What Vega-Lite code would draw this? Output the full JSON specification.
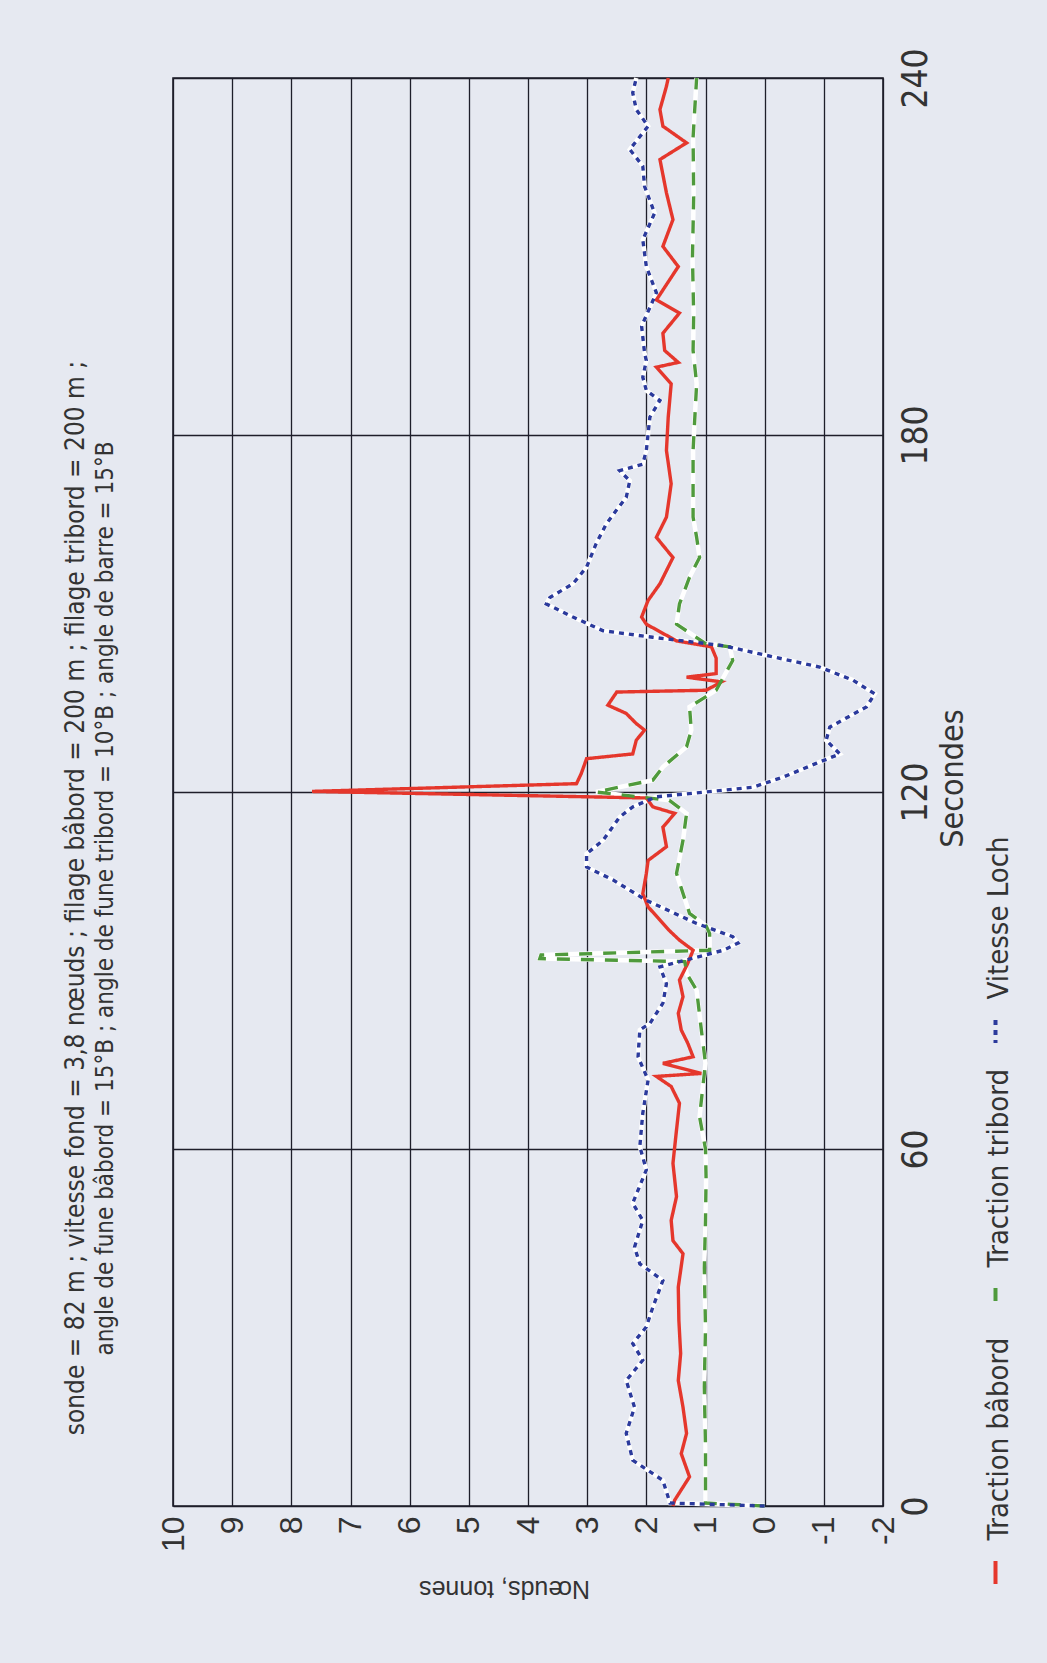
{
 "$schema": "https://vega.github.io/schema/vega-lite/v6.json",
 "width": 710,
 "height": 1428,
 "autosize": "none",
 "padding": {"left": 173, "top": 78, "right": 164, "bottom": 157},
 "background": "#e6e9f1",
 "config": {"view": {"stroke": "#1e1e2a", "strokeWidth": 1.6}, "font": "'DejaVu Sans Condensed', 'Liberation Sans', sans-serif"},
 "title": {
  "text": "sonde = 82 m ; vitesse fond = 3,8 nœuds ; filage bâbord = 200 m ; filage tribord = 200 m ;",
  "orient": "left", "anchor": "middle", "frame": "group", "font": "'DejaVu Sans Condensed', 'Liberation Sans', sans-serif", "fontSize": 26, "fontWeight": "normal",
  "color": "#333333", "offset": 4, "dx": -106
 },
 "data": {"values": [
  {"s":"Traction bâbord","t":0,"v":1.55},{"s":"Traction bâbord","t":1,"v":1.52},{"s":"Traction bâbord","t":4.9,"v":1.27},{"s":"Traction bâbord","t":8.8,"v":1.41},{"s":"Traction bâbord","t":12.2,"v":1.32},{"s":"Traction bâbord","t":16.6,"v":1.38},{"s":"Traction bâbord","t":21.1,"v":1.46},{"s":"Traction bâbord","t":25.6,"v":1.42},{"s":"Traction bâbord","t":31.2,"v":1.45},{"s":"Traction bâbord","t":36.8,"v":1.46},{"s":"Traction bâbord","t":42.4,"v":1.38},{"s":"Traction bâbord","t":44.6,"v":1.55},{"s":"Traction bâbord","t":48,"v":1.58},{"s":"Traction bâbord","t":52,"v":1.49},{"s":"Traction bâbord","t":57.6,"v":1.55},{"s":"Traction bâbord","t":63.2,"v":1.49},{"s":"Traction bâbord","t":67.7,"v":1.44},{"s":"Traction bâbord","t":70.5,"v":1.58},{"s":"Traction bâbord","t":72.2,"v":1.83},{"s":"Traction bâbord","t":72.7,"v":1.07},{"s":"Traction bâbord","t":74.4,"v":1.72},{"s":"Traction bâbord","t":75.5,"v":1.21},{"s":"Traction bâbord","t":77.8,"v":1.3},{"s":"Traction bâbord","t":80,"v":1.41},{"s":"Traction bâbord","t":82.8,"v":1.46},{"s":"Traction bâbord","t":85.6,"v":1.38},{"s":"Traction bâbord","t":88.4,"v":1.44},{"s":"Traction bâbord","t":91.2,"v":1.3},{"s":"Traction bâbord","t":93.4,"v":1.21},{"s":"Traction bâbord","t":95.1,"v":1.44},{"s":"Traction bâbord","t":96.8,"v":1.62},{"s":"Traction bâbord","t":100.7,"v":1.97},{"s":"Traction bâbord","t":102.9,"v":2.06},{"s":"Traction bâbord","t":106.3,"v":2.0},{"s":"Traction bâbord","t":108.5,"v":1.97},{"s":"Traction bâbord","t":110.8,"v":1.66},{"s":"Traction bâbord","t":114.1,"v":1.72},{"s":"Traction bâbord","t":116.4,"v":1.52},{"s":"Traction bâbord","t":117.5,"v":1.89},{"s":"Traction bâbord","t":119,"v":2.0},{"s":"Traction bâbord","t":120.1,"v":7.65},{"s":"Traction bâbord","t":121.4,"v":3.18},{"s":"Traction bâbord","t":123.1,"v":3.1},{"s":"Traction bâbord","t":125.6,"v":3.01},{"s":"Traction bâbord","t":126.4,"v":2.23},{"s":"Traction bâbord","t":128.7,"v":2.17},{"s":"Traction bâbord","t":130.4,"v":2.03},{"s":"Traction bâbord","t":131.5,"v":2.17},{"s":"Traction bâbord","t":133.2,"v":2.34},{"s":"Traction bâbord","t":134.6,"v":2.65},{"s":"Traction bâbord","t":136.8,"v":2.5},{"s":"Traction bâbord","t":137.1,"v":0.99},{"s":"Traction bâbord","t":138.5,"v":0.73},{"s":"Traction bâbord","t":139.3,"v":1.32},{"s":"Traction bâbord","t":139.9,"v":0.82},{"s":"Traction bâbord","t":142.5,"v":0.82},{"s":"Traction bâbord","t":144.4,"v":0.9},{"s":"Traction bâbord","t":145.4,"v":1.49},{"s":"Traction bâbord","t":148.2,"v":2.0},{"s":"Traction bâbord","t":149.4,"v":2.08},{"s":"Traction bâbord","t":152.2,"v":1.97},{"s":"Traction bâbord","t":155,"v":1.77},{"s":"Traction bâbord","t":157.2,"v":1.66},{"s":"Traction bâbord","t":159.4,"v":1.55},{"s":"Traction bâbord","t":162.8,"v":1.83},{"s":"Traction bâbord","t":166.2,"v":1.66},{"s":"Traction bâbord","t":171.8,"v":1.58},{"s":"Traction bâbord","t":177.4,"v":1.66},{"s":"Traction bâbord","t":183,"v":1.63},{"s":"Traction bâbord","t":188.6,"v":1.58},{"s":"Traction bâbord","t":191.4,"v":1.83},{"s":"Traction bâbord","t":192.2,"v":1.46},{"s":"Traction bâbord","t":194.2,"v":1.69},{"s":"Traction bâbord","t":197.1,"v":1.72},{"s":"Traction bâbord","t":200.5,"v":1.44},{"s":"Traction bâbord","t":202.7,"v":1.83},{"s":"Traction bâbord","t":208.3,"v":1.46},{"s":"Traction bâbord","t":211.7,"v":1.72},{"s":"Traction bâbord","t":216.2,"v":1.55},{"s":"Traction bâbord","t":220.7,"v":1.66},{"s":"Traction bâbord","t":226.3,"v":1.77},{"s":"Traction bâbord","t":229.1,"v":1.32},{"s":"Traction bâbord","t":231.9,"v":1.72},{"s":"Traction bâbord","t":234.7,"v":1.77},{"s":"Traction bâbord","t":238.6,"v":1.66},{"s":"Traction bâbord","t":240,"v":1.63},
  {"s":"Traction tribord","t":0,"v":0},{"s":"Traction tribord","t":0.5,"v":1.0},{"s":"Traction tribord","t":10,"v":1.0},{"s":"Traction tribord","t":20,"v":1.02},{"s":"Traction tribord","t":30,"v":1.0},{"s":"Traction tribord","t":40,"v":1.02},{"s":"Traction tribord","t":48,"v":1.0},{"s":"Traction tribord","t":55,"v":0.99},{"s":"Traction tribord","t":60,"v":1.0},{"s":"Traction tribord","t":65.4,"v":1.1},{"s":"Traction tribord","t":70,"v":1.05},{"s":"Traction tribord","t":74.4,"v":1.0},{"s":"Traction tribord","t":80,"v":1.07},{"s":"Traction tribord","t":86.7,"v":1.15},{"s":"Traction tribord","t":89.5,"v":1.32},{"s":"Traction tribord","t":91.5,"v":1.35},{"s":"Traction tribord","t":92,"v":3.8},{"s":"Traction tribord","t":92.6,"v":3.78},{"s":"Traction tribord","t":93.4,"v":0.93},{"s":"Traction tribord","t":96.2,"v":0.93},{"s":"Traction tribord","t":97.5,"v":0.99},{"s":"Traction tribord","t":99.6,"v":1.27},{"s":"Traction tribord","t":106.3,"v":1.49},{"s":"Traction tribord","t":111.9,"v":1.38},{"s":"Traction tribord","t":116.4,"v":1.32},{"s":"Traction tribord","t":118.6,"v":1.61},{"s":"Traction tribord","t":120,"v":2.85},{"s":"Traction tribord","t":122,"v":1.89},{"s":"Traction tribord","t":124.2,"v":1.72},{"s":"Traction tribord","t":127.6,"v":1.32},{"s":"Traction tribord","t":130.4,"v":1.24},{"s":"Traction tribord","t":134.3,"v":1.27},{"s":"Traction tribord","t":137.1,"v":0.82},{"s":"Traction tribord","t":142.1,"v":0.54},{"s":"Traction tribord","t":144.4,"v":0.59},{"s":"Traction tribord","t":144.9,"v":0.99},{"s":"Traction tribord","t":148.2,"v":1.49},{"s":"Traction tribord","t":151.6,"v":1.44},{"s":"Traction tribord","t":156.1,"v":1.27},{"s":"Traction tribord","t":159.4,"v":1.1},{"s":"Traction tribord","t":162.8,"v":1.15},{"s":"Traction tribord","t":166.2,"v":1.21},{"s":"Traction tribord","t":171.8,"v":1.21},{"s":"Traction tribord","t":177.4,"v":1.21},{"s":"Traction tribord","t":183,"v":1.18},{"s":"Traction tribord","t":188.6,"v":1.15},{"s":"Traction tribord","t":194.2,"v":1.21},{"s":"Traction tribord","t":200,"v":1.2},{"s":"Traction tribord","t":210,"v":1.22},{"s":"Traction tribord","t":220,"v":1.2},{"s":"Traction tribord","t":230,"v":1.21},{"s":"Traction tribord","t":240,"v":1.15},
  {"s":"Vitesse Loch","t":0,"v":0},{"s":"Vitesse Loch","t":0.5,"v":1.6},{"s":"Vitesse Loch","t":4.3,"v":1.72},{"s":"Vitesse Loch","t":7.7,"v":2.23},{"s":"Vitesse Loch","t":12.2,"v":2.34},{"s":"Vitesse Loch","t":16.6,"v":2.2},{"s":"Vitesse Loch","t":21.1,"v":2.34},{"s":"Vitesse Loch","t":24.5,"v":2.06},{"s":"Vitesse Loch","t":27.3,"v":2.23},{"s":"Vitesse Loch","t":30.1,"v":2.0},{"s":"Vitesse Loch","t":33.4,"v":1.89},{"s":"Vitesse Loch","t":37.9,"v":1.72},{"s":"Vitesse Loch","t":40.7,"v":2.11},{"s":"Vitesse Loch","t":43.5,"v":2.2},{"s":"Vitesse Loch","t":48,"v":2.06},{"s":"Vitesse Loch","t":50.9,"v":2.23},{"s":"Vitesse Loch","t":56.5,"v":2.0},{"s":"Vitesse Loch","t":60.4,"v":2.11},{"s":"Vitesse Loch","t":66,"v":2.06},{"s":"Vitesse Loch","t":71.6,"v":1.97},{"s":"Vitesse Loch","t":75.5,"v":2.14},{"s":"Vitesse Loch","t":80,"v":2.11},{"s":"Vitesse Loch","t":81.1,"v":1.94},{"s":"Vitesse Loch","t":84.5,"v":1.72},{"s":"Vitesse Loch","t":87.8,"v":1.66},{"s":"Vitesse Loch","t":90.6,"v":1.77},{"s":"Vitesse Loch","t":91.8,"v":1.32},{"s":"Vitesse Loch","t":93.4,"v":0.7},{"s":"Vitesse Loch","t":94.6,"v":0.45},{"s":"Vitesse Loch","t":95.7,"v":0.54},{"s":"Vitesse Loch","t":97.9,"v":1.15},{"s":"Vitesse Loch","t":101.8,"v":2.0},{"s":"Vitesse Loch","t":105.2,"v":2.56},{"s":"Vitesse Loch","t":107.4,"v":3.01},{"s":"Vitesse Loch","t":109.6,"v":3.01},{"s":"Vitesse Loch","t":111.9,"v":2.73},{"s":"Vitesse Loch","t":115.8,"v":2.45},{"s":"Vitesse Loch","t":117.5,"v":2.23},{"s":"Vitesse Loch","t":119.2,"v":1.83},{"s":"Vitesse Loch","t":120,"v":0.99},{"s":"Vitesse Loch","t":120.8,"v":0.2},{"s":"Vitesse Loch","t":122.5,"v":-0.31},{"s":"Vitesse Loch","t":124.8,"v":-0.87},{"s":"Vitesse Loch","t":126.4,"v":-1.27},{"s":"Vitesse Loch","t":128.7,"v":-1.04},{"s":"Vitesse Loch","t":130.9,"v":-1.1},{"s":"Vitesse Loch","t":134.3,"v":-1.72},{"s":"Vitesse Loch","t":136.5,"v":-1.86},{"s":"Vitesse Loch","t":138.8,"v":-1.49},{"s":"Vitesse Loch","t":141,"v":-0.93},{"s":"Vitesse Loch","t":143.2,"v":0.08},{"s":"Vitesse Loch","t":144.6,"v":0.7},{"s":"Vitesse Loch","t":146,"v":1.89},{"s":"Vitesse Loch","t":147.1,"v":2.73},{"s":"Vitesse Loch","t":149.4,"v":3.24},{"s":"Vitesse Loch","t":151.6,"v":3.69},{"s":"Vitesse Loch","t":152.7,"v":3.63},{"s":"Vitesse Loch","t":155,"v":3.24},{"s":"Vitesse Loch","t":157.8,"v":3.01},{"s":"Vitesse Loch","t":161.7,"v":2.85},{"s":"Vitesse Loch","t":165,"v":2.68},{"s":"Vitesse Loch","t":167.3,"v":2.51},{"s":"Vitesse Loch","t":169.5,"v":2.34},{"s":"Vitesse Loch","t":172.3,"v":2.28},{"s":"Vitesse Loch","t":174,"v":2.45},{"s":"Vitesse Loch","t":175.1,"v":2.06},{"s":"Vitesse Loch","t":177.4,"v":2.0},{"s":"Vitesse Loch","t":180.2,"v":1.97},{"s":"Vitesse Loch","t":183,"v":1.94},{"s":"Vitesse Loch","t":185.8,"v":1.77},{"s":"Vitesse Loch","t":187.5,"v":2.0},{"s":"Vitesse Loch","t":189.7,"v":2.06},{"s":"Vitesse Loch","t":192.5,"v":2.0},{"s":"Vitesse Loch","t":193.8,"v":2.03},{"s":"Vitesse Loch","t":198.3,"v":2.08},{"s":"Vitesse Loch","t":203.9,"v":1.83},{"s":"Vitesse Loch","t":208.3,"v":2.0},{"s":"Vitesse Loch","t":212.8,"v":2.06},{"s":"Vitesse Loch","t":217.3,"v":1.86},{"s":"Vitesse Loch","t":221.8,"v":2.03},{"s":"Vitesse Loch","t":225.2,"v":2.06},{"s":"Vitesse Loch","t":228,"v":2.28},{"s":"Vitesse Loch","t":231.9,"v":1.97},{"s":"Vitesse Loch","t":234.7,"v":2.17},{"s":"Vitesse Loch","t":237.5,"v":2.23},{"s":"Vitesse Loch","t":240,"v":2.17}
 ]},
 "encoding": {
  "x": {"field": "v", "type": "quantitative", "scale": {"domain": [-2, 10], "reverse": true, "nice": false, "zero": false},
   "axis": {"orient": "bottom", "values": [-2,-1,0,1,2,3,4,5,6,7,8,9,10], "labelExpr": "replace(datum.label, '−', '-')", "labelAngle": -90, "labelAlign": "right", "labelBaseline": "middle",
    "labelFont": "Liberation Sans", "labelFontSize": 32, "labelColor": "#333333", "labelPadding": 10, "ticks": false, "domain": false,
    "grid": true, "gridColor": "#1e1e2a", "gridWidth": 1.3, "gridOpacity": 1,
    "title": "Nœuds, tonnes", "titleX": 331, "titleAngle": 180, "titleBaseline": "bottom", "titleFont": "Liberation Sans", "titleFontSize": 25, "titleFontWeight": "normal", "titleColor": "#333333", "titlePadding": 24}},
  "y": {"field": "t", "type": "quantitative", "scale": {"domain": [0, 240], "nice": false},
   "axis": {"orient": "right", "values": [0, 60, 120, 180, 240], "labelAngle": -90, "labelAlign": "center", "labelBaseline": "top",
    "labelFontSize": 35, "labelColor": "#333333", "labelPadding": 15, "ticks": false, "domain": false,
    "grid": true, "gridColor": "#1e1e2a", "gridWidth": 1.3, "gridOpacity": 1,
    "title": "Secondes", "titleAngle": -90, "titleBaseline": "top", "titleFontSize": 32, "titleFontWeight": "normal", "titleColor": "#333333", "titlePadding": 4, "titleY": 700}}
 },
 "resolve": {"axis": {"y": "independent"}},
 "layer": [
  {"transform": [{"filter": "datum.s !== 'Traction bâbord'"}],
   "mark": {"type": "line", "color": "#ffffff", "strokeWidth": 4.5},
   "encoding": {"detail": {"field": "s", "type": "nominal"}, "order": {"field": "t", "type": "quantitative"}}},
  {"mark": {"type": "line", "strokeWidth": 3.4},
   "encoding": {
    "y": {"field": "t", "type": "quantitative",
     "axis": {"orient": "left", "labels": false, "ticks": false, "domain": false, "grid": false,
      "title": "angle de fune bâbord = 15°B ; angle de fune tribord = 10°B ; angle de barre = 15°B",
      "titleAngle": -90, "titleBaseline": "bottom", "titleY": 820, "titleFontSize": 24, "titleFontWeight": "normal", "titleColor": "#333333", "titlePadding": 56}},
    "order": {"field": "t", "type": "quantitative"},
    "color": {"field": "s", "type": "nominal",
     "scale": {"domain": ["Vitesse Loch", "Traction tribord", "Traction bâbord"], "range": ["#2b3a9c", "#4f9a3c", "#e5372c"]},
     "legend": {"orient": "none", "legendX": 808, "legendY": 939, "title": null, "symbolType": "stroke", "symbolSize": 529, "symbolStrokeWidth": 4,
      "labelFontSize": 29, "labelColor": "#333333", "labelLimit": 0, "rowPadding": 18, "labelOffset": -11,
      "labelAlign": "left", "labelBaseline": "middle",
      "encode": {"labels": {"update": {"angle": {"value": -90}, "dx": {"value": 32}}}, "symbols": {"update": {"angle": {"value": 90}}}}}},
    "strokeDash": {"field": "s", "type": "nominal",
     "scale": {"domain": ["Vitesse Loch", "Traction tribord", "Traction bâbord"], "range": [[5, 5], [13, 11], [1, 0]]},
     "legend": {"orient": "none", "legendX": 808, "legendY": 939, "title": null, "symbolType": "stroke", "symbolSize": 529, "symbolStrokeWidth": 4,
      "labelFontSize": 29, "labelColor": "#333333", "labelLimit": 0, "rowPadding": 18, "labelOffset": -11,
      "labelAlign": "left", "labelBaseline": "middle",
      "encode": {"labels": {"update": {"angle": {"value": -90}, "dx": {"value": 32}}}, "symbols": {"update": {"angle": {"value": 90}}}}}}
   }}
 ]
}
